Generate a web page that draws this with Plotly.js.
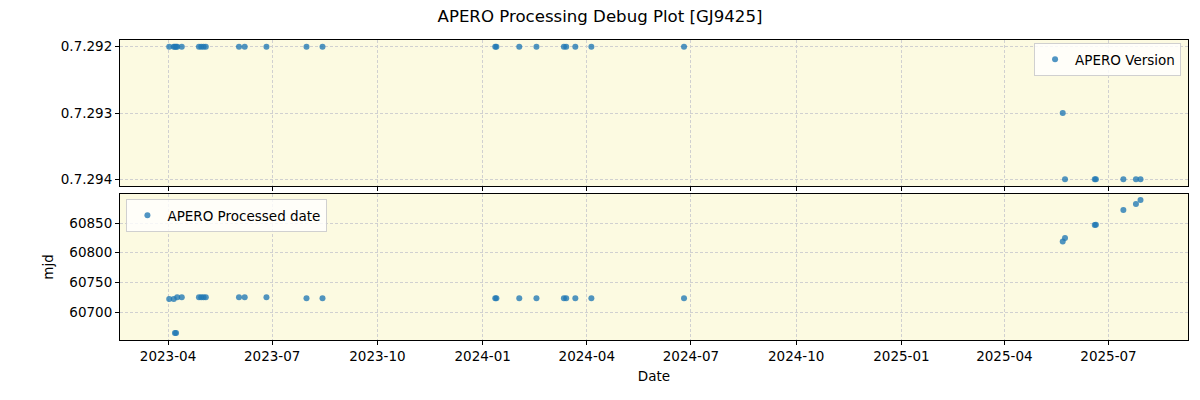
<!DOCTYPE html>
<html>
<head>
<meta charset="utf-8">
<script src="https://cdn.plot.ly/plotly-3.0.1.min.js"></script>
<style>html,body{margin:0;padding:0;background:#fff;}#chart{width:1200px;height:400px;}</style>
</head>
<body>
<div id="chart"></div>
<script>
const obsDates = [
  "2023-04-02","2023-04-06","2023-04-07","2023-04-08","2023-04-09","2023-04-13",
  "2023-04-28","2023-04-30","2023-05-02","2023-05-04","2023-06-02","2023-06-07",
  "2023-06-26","2023-07-31","2023-08-14","2024-01-12","2024-01-13","2024-02-02",
  "2024-02-17","2024-03-12","2024-03-14","2024-03-22","2024-04-05","2024-06-25",
  "2025-05-22","2025-05-24","2025-06-19","2025-06-20","2025-07-14","2025-07-25","2025-07-29"
];
const versions = [
  "0.7.292","0.7.292","0.7.292","0.7.292","0.7.292","0.7.292",
  "0.7.292","0.7.292","0.7.292","0.7.292","0.7.292","0.7.292",
  "0.7.292","0.7.292","0.7.292","0.7.292","0.7.292","0.7.292",
  "0.7.292","0.7.292","0.7.292","0.7.292","0.7.292","0.7.292",
  "0.7.293","0.7.294","0.7.294","0.7.294","0.7.294","0.7.294","0.7.294"
];
const processedMjd = [
  60722, 60722, 60665, 60665, 60725, 60725,
  60725, 60725, 60725, 60725, 60725, 60725,
  60725, 60723.5, 60723.5, 60723.5, 60723.5, 60723.5,
  60723.5, 60723.5, 60723.5, 60723.5, 60723.5, 60723.5,
  60819, 60824.7, 60846.6, 60847, 60872, 60882, 60888.7
];
const versionOrder = ["0.7.292","0.7.293","0.7.294"];
const mjdTicks = [60700, 60750, 60800, 60850];
const mjdTickLabels = ["60700", "60750", "60800", "60850"];
const dateTicks = ["2023-04-01","2023-07-01","2023-10-01","2024-01-01","2024-04-01","2024-07-01","2024-10-01","2025-01-01","2025-04-01","2025-07-01"];
const dateTickLabels = ["2023-04","2023-07","2023-10","2024-01","2024-04","2024-07","2024-10","2025-01","2025-04","2025-07"];

const FONT = "DejaVu Sans, sans-serif";
const FS = 13.5;
const markerStyle = {color: "rgba(31,119,180,0.78)", size: 6, line: {width: 0}};

const traces = [
  {x: obsDates, y: versions, type: "scatter", mode: "markers", name: "APERO Version",
   marker: markerStyle, xaxis: "x", yaxis: "y", legend: "legend"},
  {x: obsDates, y: processedMjd, type: "scatter", mode: "markers", name: "APERO Processed date",
   marker: markerStyle, xaxis: "x2", yaxis: "y2", legend: "legend2"}
];

const xRange = ["2023-02-18", "2025-09-08 12:00"];
const axisCommon = {
  showline: true, mirror: true, linecolor: "#000", linewidth: 1,
  ticks: "outside", ticklen: 4, tickcolor: "#000", tickwidth: 1,
  showgrid: true, gridcolor: "#d0d0d0", griddash: "3px,2px", gridwidth: 1,
  zeroline: false, tickfont: {family: FONT, size: FS, color: "#000"}
};

const layout = {
  width: 1200, height: 400,
  margin: {l: 120, r: 12, t: 40, b: 60},
  paper_bgcolor: "#fff",
  plot_bgcolor: "rgb(252,250,225)",
  title: {text: "APERO Processing Debug Plot [GJ9425]", x: 0.5, xanchor: "center",
          y: 0.96, yref: "container", yanchor: "middle",
          font: {family: FONT, size: 16.6, color: "#000"}},
  showlegend: true,
  xaxis: Object.assign({}, axisCommon, {domain: [0, 1], anchor: "y", type: "date",
          range: xRange, tickvals: dateTicks, ticktext: dateTickLabels, showticklabels: false, matches: "x2"}),
  yaxis: Object.assign({}, axisCommon, {domain: [0.5133, 1], anchor: "x", type: "category",
          categoryorder: "array", categoryarray: versionOrder, range: [2.1, -0.1]}),
  xaxis2: Object.assign({}, axisCommon, {domain: [0, 1], anchor: "y2", type: "date",
          range: xRange, tickvals: dateTicks, ticktext: dateTickLabels,
          title: {text: "Date", font: {family: FONT, size: FS, color: "#000"}, standoff: 8}}),
  yaxis2: Object.assign({}, axisCommon, {domain: [0, 0.4867], anchor: "x2",
          range: [60653, 60899], tickvals: mjdTicks, ticktext: mjdTickLabels,
          title: {text: "mjd", font: {family: FONT, size: FS, color: "#000"}, standoff: 12}}),
  legend: {x: 0.9935, xanchor: "right", y: 0.99, yanchor: "top", yref: "paper",
           bgcolor: "rgba(255,255,255,0.8)", bordercolor: "#d0d0d0", borderwidth: 1,
           font: {family: FONT, size: FS, color: "#000"}},
  legend2: {x: 0.006, xanchor: "left", y: 0.47, yanchor: "top", yref: "paper",
           bgcolor: "rgba(255,255,255,0.8)", bordercolor: "#d0d0d0", borderwidth: 1,
           font: {family: FONT, size: FS, color: "#000"}}
};

Plotly.newPlot("chart", traces, layout, {displayModeBar: false, staticPlot: true});
</script>
</body>
</html>
